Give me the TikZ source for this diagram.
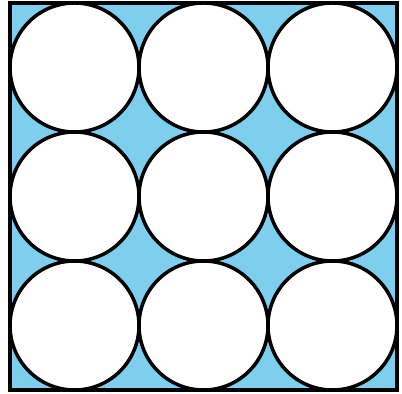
\documentclass[tikz,border=0pt]{standalone}
\usepackage{amsmath,amssymb}
\usepackage{tikz}

\definecolor{skyfill}{RGB}{125,207,237}

\begin{document}
\begin{tikzpicture}[x=0.02cm,y=-0.02cm]

        \useasboundingbox (0,0) rectangle (402,394);

        \newcommand{\R}{64.5}
        % square box
        \draw[line width=0.07cm,fill=skyfill] (10,3) rectangle (397,390);

        % three rows of circles
        \foreach \i in {0,1,2} {
            \foreach \j in {0,1,2} {
                \draw[line width=0.07cm,fill=white] (10+\R+2*\R*\i,3+\R+2*\R*\j) circle (\R);
            }
        }

    \end{tikzpicture}
\end{document}
